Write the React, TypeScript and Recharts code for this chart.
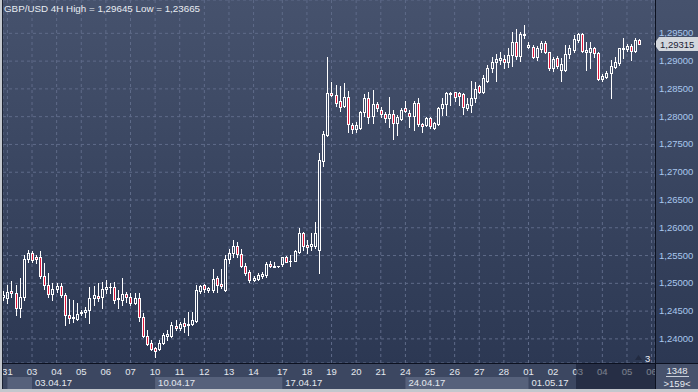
import React from "react";
import {
  Bar,
  CartesianGrid,
  ComposedChart,
  ReferenceLine,
  XAxis,
  YAxis,
} from "recharts";

// GBP/USD 4H candles
const open = [
  1.2475, 1.2474, 1.2486, 1.2483, 1.2456, 1.2475, 1.2544, 1.2555, 1.2547, 1.2547, 1.2513, 1.2497,
  1.2481, 1.249, 1.2495, 1.2479, 1.2443, 1.2438, 1.2436, 1.2447, 1.2448, 1.2452, 1.2474, 1.2477,
  1.2475, 1.249, 1.2493, 1.2493, 1.2473, 1.247, 1.2481, 1.2475, 1.2465, 1.2474, 1.2439, 1.2405,
  1.2393, 1.2383, 1.2382, 1.2393, 1.2405, 1.2405, 1.2423, 1.2419, 1.2428, 1.2425, 1.2427, 1.2433,
  1.2487, 1.2497, 1.2488, 1.2488, 1.2509, 1.2498, 1.2488, 1.2543, 1.2554, 1.2567, 1.2553, 1.2531,
  1.2521, 1.2506, 1.2508, 1.2513, 1.2515, 1.2534, 1.253, 1.2531, 1.2534, 1.2547, 1.254, 1.2541,
  1.2557, 1.259, 1.2569, 1.2567, 1.2567, 1.256, 1.272, 1.2767, 1.2843, 1.2839, 1.2828, 1.2819,
  1.2835, 1.2785, 1.2777, 1.2779, 1.2809, 1.2833, 1.2801, 1.2823, 1.2812, 1.2805, 1.2797, 1.2805,
  1.2788, 1.2795, 1.2815, 1.2807, 1.2801, 1.2825, 1.2787, 1.2785, 1.2797, 1.2779, 1.2787, 1.2815,
  1.2823, 1.2841, 1.2844, 1.2842, 1.284, 1.2816, 1.2821, 1.2833, 1.2856, 1.2845, 1.2864, 1.2887,
  1.2898, 1.2902, 1.2904, 1.2899, 1.2911, 1.2935, 1.291, 1.2947, 1.2926, 1.2926, 1.2908, 1.2922,
  1.2932, 1.2916, 1.2887, 1.2906, 1.2884, 1.2884, 1.2912, 1.292, 1.2938, 1.2948, 1.2917, 1.2917,
  1.2923, 1.2914, 1.2868, 1.2872, 1.2878, 1.289, 1.2896, 1.2921, 1.2922, 1.2927, 1.2918, 1.2938,
];
const high = [
  1.2486, 1.2497, 1.2504, 1.2497, 1.251, 1.2551, 1.256, 1.2558, 1.2551, 1.2558, 1.2537, 1.2519,
  1.2501, 1.2501, 1.2501, 1.2483, 1.2472, 1.247, 1.2465, 1.2452, 1.2457, 1.2493, 1.2495, 1.2501,
  1.2502, 1.2506, 1.2501, 1.2502, 1.2488, 1.251, 1.2484, 1.2483, 1.2483, 1.2483, 1.2447, 1.2416,
  1.2398, 1.2385, 1.2398, 1.2411, 1.2416, 1.243, 1.2434, 1.2431, 1.2438, 1.2449, 1.2448, 1.2497,
  1.2497, 1.2499, 1.2494, 1.2525, 1.2513, 1.2525, 1.2551, 1.2561, 1.2578, 1.2575, 1.2561, 1.2536,
  1.2524, 1.2513, 1.2518, 1.2521, 1.2539, 1.2541, 1.2539, 1.2532, 1.2548, 1.255, 1.2551, 1.256,
  1.2599, 1.2593, 1.2578, 1.259, 1.2611, 1.2735, 1.2775, 1.2908, 1.2863, 1.2857, 1.2855, 1.2861,
  1.2847, 1.2789, 1.2791, 1.2811, 1.2841, 1.2845, 1.2848, 1.2827, 1.2818, 1.2809, 1.2836, 1.2812,
  1.2803, 1.2815, 1.2828, 1.2812, 1.2828, 1.2834, 1.2789, 1.28, 1.28, 1.2791, 1.2818, 1.2833,
  1.2845, 1.2845, 1.2845, 1.2844, 1.2843, 1.2834, 1.2864, 1.2863, 1.2857, 1.2875, 1.2893, 1.2908,
  1.2912, 1.2916, 1.2911, 1.2923, 1.2952, 1.2958, 1.2953, 1.29645, 1.2934, 1.2929, 1.2927, 1.2936,
  1.2936, 1.2917, 1.2908, 1.291, 1.2906, 1.2929, 1.2929, 1.2947, 1.295, 1.295, 1.2935, 1.2935,
  1.2926, 1.2916, 1.2876, 1.2882, 1.2902, 1.2908, 1.2924, 1.2941, 1.293, 1.293, 1.2942, 1.294,
];
const low = [
  1.247, 1.2465, 1.2475, 1.2443, 1.2439, 1.247, 1.2538, 1.2538, 1.2537, 1.251, 1.249, 1.2475,
  1.247, 1.2484, 1.2475, 1.2425, 1.2429, 1.243, 1.2434, 1.2443, 1.2439, 1.2429, 1.2461, 1.2468,
  1.2456, 1.2483, 1.2483, 1.2465, 1.2456, 1.2461, 1.2466, 1.2461, 1.2463, 1.2432, 1.2403, 1.2389,
  1.238, 1.23665, 1.238, 1.2391, 1.2398, 1.2403, 1.2416, 1.2416, 1.2413, 1.2407, 1.2425, 1.2431,
  1.2482, 1.2485, 1.2485, 1.2485, 1.2485, 1.2491, 1.2487, 1.2537, 1.2548, 1.2547, 1.2529, 1.2515,
  1.2503, 1.2505, 1.2506, 1.2509, 1.2512, 1.2529, 1.253, 1.253, 1.2532, 1.2538, 1.2532, 1.254,
  1.2554, 1.256, 1.2554, 1.256, 1.2563, 1.2519, 1.2711, 1.2765, 1.2837, 1.2819, 1.2811, 1.2818,
  1.2773, 1.2771, 1.2773, 1.2777, 1.2801, 1.2788, 1.2788, 1.2811, 1.2799, 1.2791, 1.2782, 1.2759,
  1.2767, 1.2794, 1.2809, 1.2781, 1.2776, 1.2783, 1.2773, 1.2783, 1.2779, 1.2777, 1.2785, 1.2803,
  1.2803, 1.2821, 1.2829, 1.2821, 1.2804, 1.2812, 1.2808, 1.2827, 1.2842, 1.2842, 1.2863, 1.2881,
  1.2864, 1.2894, 1.2888, 1.289, 1.2892, 1.2904, 1.29, 1.2942, 1.2923, 1.2905, 1.2902, 1.2917,
  1.2914, 1.2884, 1.2882, 1.2887, 1.2864, 1.2882, 1.2905, 1.2916, 1.2935, 1.2916, 1.2884, 1.2887,
  1.2908, 1.2866, 1.2864, 1.2869, 1.2833, 1.2887, 1.2893, 1.2905, 1.2918, 1.2902, 1.2916, 1.293,
];
const close = [
  1.2479, 1.2484, 1.2483, 1.2456, 1.2475, 1.2544, 1.2555, 1.2542, 1.2544, 1.2513, 1.2497, 1.2481,
  1.249, 1.2495, 1.2479, 1.2443, 1.2438, 1.2439, 1.2445, 1.2448, 1.2452, 1.2474, 1.2479, 1.2474,
  1.249, 1.2493, 1.2494, 1.247, 1.2471, 1.2481, 1.2475, 1.2465, 1.2474, 1.2439, 1.2405, 1.2391,
  1.2382, 1.2379, 1.2393, 1.2407, 1.2409, 1.2425, 1.242, 1.2427, 1.2424, 1.2426, 1.2434, 1.2488,
  1.2495, 1.2489, 1.2491, 1.2507, 1.2497, 1.2495, 1.2543, 1.2555, 1.2567, 1.2553, 1.2531, 1.2519,
  1.2506, 1.2509, 1.2515, 1.2517, 1.2535, 1.2531, 1.2531, 1.2531, 1.2547, 1.2539, 1.2541, 1.2558,
  1.259, 1.2567, 1.2566, 1.257, 1.259, 1.2722, 1.2768, 1.2842, 1.2839, 1.2825, 1.2818, 1.2835,
  1.2787, 1.2777, 1.2785, 1.2809, 1.2833, 1.28, 1.2823, 1.2815, 1.2805, 1.2797, 1.2805, 1.2788,
  1.28, 1.2812, 1.281, 1.2801, 1.2825, 1.2786, 1.2784, 1.2797, 1.2783, 1.2788, 1.2815, 1.2823,
  1.2842, 1.2843, 1.2836, 1.2837, 1.2817, 1.2822, 1.2833, 1.285, 1.2845, 1.287, 1.2888, 1.2899,
  1.2903, 1.2906, 1.2898, 1.2911, 1.2935, 1.291, 1.2949, 1.2948, 1.2929, 1.2908, 1.2924, 1.2932,
  1.2916, 1.2887, 1.2903, 1.2892, 1.2894, 1.2912, 1.2923, 1.294, 1.2948, 1.2918, 1.292, 1.2923,
  1.2914, 1.2868, 1.2873, 1.2879, 1.2892, 1.2898, 1.2923, 1.2924, 1.2927, 1.2918, 1.2938, 1.29315,
];

// day labels and the candle that opens each day
const dayLabels = [
  "31", "03", "04", "05", "06", "07", "10", "11", "12", "13", "14", "17", "18", "19",
  "20", "21", "24", "25", "26", "27", "28", "01", "02", "03", "04", "05", "06",
];
const dayStart = [
  1, 7, 13, 19, 25, 31, 37, 43, 49, 55, 61, 68, 74, 80,
  86, 92, 98, 104, 110, 116, 122, 128, 134, 140, 146, 152, 158,
];
const weekLabels = ["", "03.04.17", "10.04.17", "17.04.17", "24.04.17", "01.05.17"];
const weekStart = [1, 7, 37, 68, 98, 128];

const priceTicks = [1.24, 1.245, 1.25, 1.255, 1.26, 1.265, 1.27, 1.275, 1.28, 1.285, 1.29, 1.295];
const lastPrice = 1.29315;
const title = "GBP/USD 4H High = 1,29645 Low = 1,23665";
const barsInfo = ["1348", ">159<"];

const W = 698;
const H = 392;
const PLOT_L = 3;
const PLOT_R = 655;
const PLOT_B = 363;
const X_DOMAIN: [number, number] = [-0.073, 158.83];
const Y_DOMAIN: [number, number] = [1.23566, 1.301];
const PX_PER_BAR = (PLOT_R - PLOT_L) / (X_DOMAIN[1] - X_DOMAIN[0]);

const FONT = "'Liberation Sans', Arial, sans-serif";
const UP_BODY = "none";
const DOWN_BODY = "#e0163a";
const WHITE = "#ffffff";

const data = open.map((o, i) => ({
  i,
  open: o,
  high: high[i],
  low: low[i],
  close: close[i],
}));

const fmt = (v: number) => v.toFixed(5).replace(".", ",");

const Candle = (props: any) => {
  const { x, y, width, height, payload } = props;
  if (!payload) return null;
  const { open: o, close: c, high: h, low: l } = payload;
  const top0 = Math.min(y, y + height);
  const span = Math.abs(height);
  const k = h === l ? 0 : span / (h - l);
  const yOf = (v: number) => top0 + (h - v) * k;
  const cx = Math.floor(x + width / 2);
  const yh = Math.round(yOf(h));
  const yl = Math.round(yOf(l));
  const bt = Math.round(yOf(Math.max(o, c)));
  const bb = Math.round(yOf(Math.min(o, c)));
  const down = c < o;
  const parts: React.ReactNode[] = [];
  if (bb - bt < 1) {
    parts.push(<line key="w" x1={cx + 0.5} x2={cx + 0.5} y1={yh} y2={yl + 1} stroke={WHITE} />);
    parts.push(<line key="d" x1={cx - 1} x2={cx + 2} y1={bt + 0.5} y2={bt + 0.5} stroke={WHITE} />);
  } else {
    if (yh < bt) parts.push(<line key="t" x1={cx + 0.5} x2={cx + 0.5} y1={yh} y2={bt} stroke={WHITE} />);
    if (yl > bb) parts.push(<line key="b" x1={cx + 0.5} x2={cx + 0.5} y1={bb + 1} y2={yl + 1} stroke={WHITE} />);
    parts.push(
      <rect
        key="r"
        x={cx - 0.5}
        y={bt + 0.5}
        width={2}
        height={bb - bt}
        fill={down ? DOWN_BODY : UP_BODY}
        stroke={WHITE}
        strokeWidth={1}
      />
    );
  }
  return <g>{parts}</g>;
};

const DayTick = (props: any) => {
  const { x, payload } = props;
  const d = dayStart.indexOf(payload.value);
  const w = weekStart.indexOf(payload.value);
  let week = null;
  if (w >= 0) {
    const next = w + 1 < weekStart.length ? weekStart[w + 1] : null;
    const x2 = next !== null ? x + (next - payload.value) * PX_PER_BAR : PLOT_R;
    week = (
      <g>
        {w % 2 === 0 && <rect x={x} y={377} width={x2 - x} height={12} fill="#56617b" />}
        <text x={x + 3} y={385.5} fill="#e4e8ee" fontSize={9.5} fontFamily={FONT}>
          {weekLabels[w]}
        </text>
      </g>
    );
  }
  return (
    <g>
      {week}
      <text x={x} y={375} textAnchor="middle" fill="#e4e8ee" fontSize={9.5} fontFamily={FONT}>
        {d >= 0 ? dayLabels[d] : ""}
      </text>
    </g>
  );
};

const PriceTick = (props: any) => {
  const { x, y, payload } = props;
  return (
    <text x={x} y={y + 3} textAnchor="start" fill="#a9c7ee" fontSize={9.5} fontFamily={FONT}>
      {fmt(payload.value)}
    </text>
  );
};

const PriceTag = (props: any) => {
  const vb = props.viewBox || {};
  const r = (vb.x || 0) + (vb.width || 0);
  const yy = Math.round(vb.y || 0);
  return (
    <g>
      <polygon
        points={`${r - 1},${yy} ${r + 4},${yy - 7} ${W},${yy - 7} ${W},${yy + 7} ${r + 4},${yy + 7}`}
        fill="#d3d7dd"
      />
      <text x={r + 5} y={yy + 3.5} fill="#1a2134" fontSize={9.5} fontFamily={FONT}>
        {fmt(lastPrice)}
      </text>
    </g>
  );
};

const App = () => {
  return (
    <div style={{ position: "fixed", left: 0, top: 0, width: W, height: H, overflow: "hidden" }}>
      {/* background: frame, gradient, axis band */}
      <svg width={W} height={H} style={{ position: "absolute", left: 0, top: 0 }}>
        <defs>
          <linearGradient id="bg" x1="0" y1="0" x2="0" y2="1">
            <stop offset="0%" stopColor="#46526d" />
            <stop offset="100%" stopColor="#2c3853" />
          </linearGradient>
        </defs>
        <rect x={0} y={0} width={W} height={H} fill="#c3c7cd" />
        <rect x={2} y={0} width={1} height={389} fill="#1a2131" />
        <rect x={3} y={0} width={W - 3} height={PLOT_B} fill="url(#bg)" />
        <rect x={3} y={PLOT_B} width={W - 3} height={389 - PLOT_B} fill="#3c4761" />
      </svg>

      <div style={{ position: "absolute", left: 0, top: 0 }}>
        <ComposedChart
          width={W}
          height={H}
          data={data}
          margin={{ top: 0, right: 0, bottom: 0, left: PLOT_L }}
        >
          <CartesianGrid stroke="#5f6b89" strokeDasharray="3 3" />
          <XAxis
            dataKey="i"
            type="number"
            domain={X_DOMAIN}
            allowDataOverflow
            ticks={dayStart}
            interval={0}
            height={H - PLOT_B}
            tickLine={false}
            axisLine={false}
            tick={<DayTick />}
          />
          <YAxis
            orientation="right"
            type="number"
            domain={Y_DOMAIN}
            allowDataOverflow
            ticks={priceTicks}
            interval={0}
            width={W - PLOT_R}
            tickLine={false}
            axisLine={false}
            tickSize={0}
            tickMargin={4}
            tick={<PriceTick />}
          />
          <Bar
            dataKey={(d: any) => [d.low, d.high]}
            barSize={3}
            shape={(p: any) => <Candle {...p} />}
            isAnimationActive={false}
          />
          <ReferenceLine
            y={lastPrice}
            stroke="none"
            strokeOpacity={0}
            label={(p: any) => <PriceTag {...p} />}
          />
        </ComposedChart>
      </div>

      {/* overlay: frame lines, scroll shade, info box, title */}
      <svg width={W} height={H} style={{ position: "absolute", left: 0, top: 0, pointerEvents: "none" }}>
        <rect x={576} y={PLOT_B + 1} width={PLOT_R - 576} height={389 - PLOT_B - 1} fill="#10162a" opacity={0.5} />
        <rect x={PLOT_R + 1} y={PLOT_B + 1} width={W - PLOT_R - 1} height={389 - PLOT_B - 1} fill="#47526c" />
        <rect x={0} y={0} width={2} height={H} fill="#c3c7cd" />
        <rect x={2} y={0} width={1} height={389} fill="#1a2131" />
        <rect x={0} y={389} width={W} height={3} fill="#c3c7cd" />
        <line x1={2} x2={W} y1={PLOT_B + 0.5} y2={PLOT_B + 0.5} stroke="#0c1120" />
        <line x1={PLOT_R + 0.5} x2={PLOT_R + 0.5} y1={0} y2={389} stroke="#0c1120" />
        <text x={677} y={374} textAnchor="middle" fill="#e6eaf0" fontSize={9.5} fontFamily={FONT}>
          {barsInfo[0]}
        </text>
        <line x1={666} x2={689} y1={376.5} y2={376.5} stroke="#c9cfd9" />
        <text x={677} y={386.5} textAnchor="middle" fill="#e6eaf0" fontSize={9.5} fontFamily={FONT}>
          {barsInfo[1]}
        </text>
        <polygon points="635,360 638.5,355 642,360" fill="#222b41" />
        <text x={645} y={362} fill="#eef1f5" fontSize={9.5} fontFamily={FONT}>
          3
        </text>
        <text x={4} y={11.5} fill="#e8ecf2" fontSize={9.8} fontFamily={FONT}>
          {title}
        </text>
      </svg>
    </div>
  );
};

export default App;
